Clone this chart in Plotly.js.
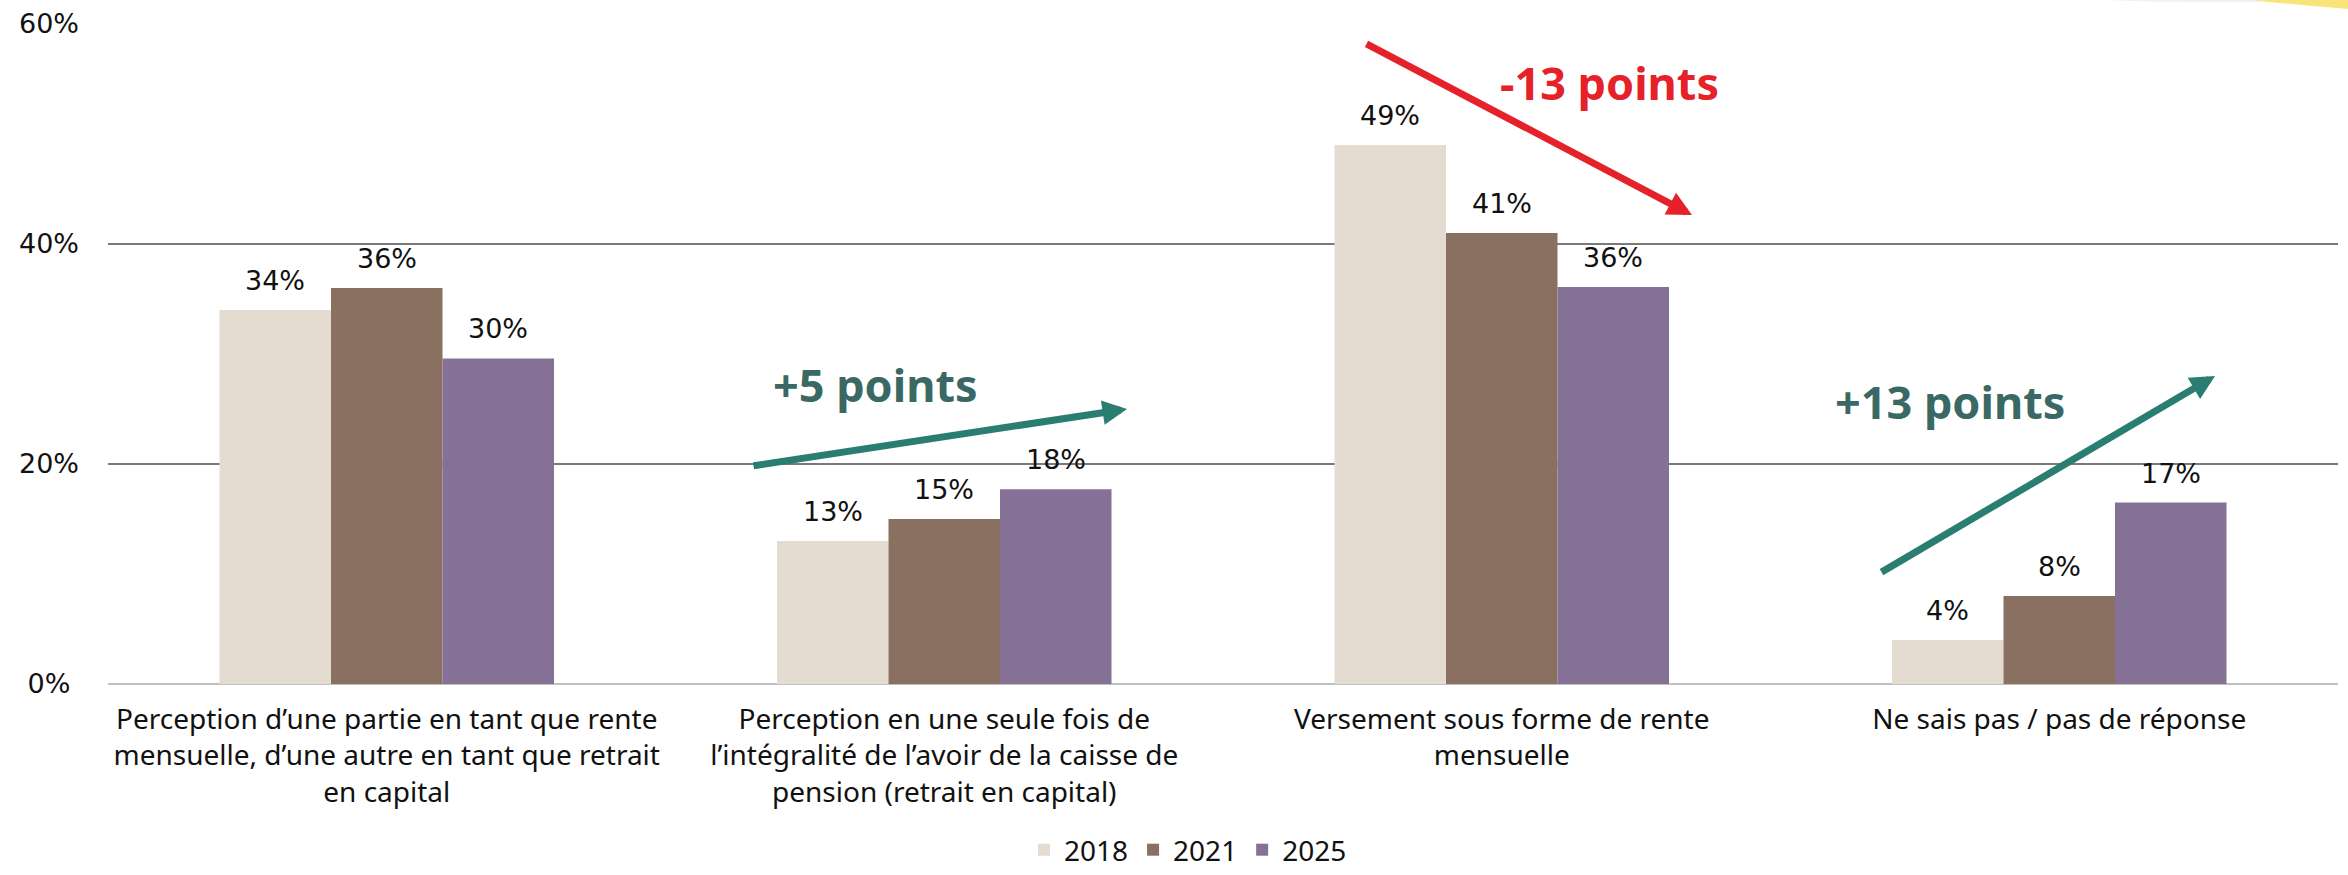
<!DOCTYPE html>
<html>
<head>
<meta charset="utf-8">
<script src="https://cdn.plot.ly/plotly-3.0.1.min.js"></script>
<style>
  html, body { margin: 0; padding: 0; background: #ffffff; }
  #chart { width: 2348px; height: 875px; }
</style>
</head>
<body>
<div id="chart"></div>
<script>
// ---- Data ----
const categories = [
  "Perception d\u2019une partie en tant que rente<br>mensuelle, d\u2019une autre en tant que retrait<br>en capital",
  "Perception en une seule fois de<br>l\u2019int\u00e9gralit\u00e9 de l\u2019avoir de la caisse de<br>pension (retrait en capital)",
  "Versement sous forme de rente<br>mensuelle",
  "Ne sais pas / pas de r\u00e9ponse"
];
const years = ["2018", "2021", "2025"];
const values2018 = [34, 13, 49, 4];
const values2021 = [36, 15, 41, 8];
const values2025 = [29.6, 17.7, 36.1, 16.5];
const yTickVals = [0, 20, 40, 60];
const yTickText = ["0%\u00a0", "20%", "40%", "60%"];
const trendLabels = ["+5 points", "-13 points", "+13 points"];
const barColors = ["#e4dbd1", "#8a7061", "#867196"];

// ---- Layout constants ----
const W = 2348, H = 875;
const M = { l: 108, r: 10, t: 24, b: 191, autoexpand: false };
const bargap = 0.4;
const plotW = W - M.l - M.r;
const plotH = H - M.t - M.b;
const catW = plotW / categories.length;
const barW = catW * (1 - bargap) / years.length;

const series = [values2018, values2021, values2025];

const traces = series.map((vals, k) => ({
  type: "bar",
  name: years[k],
  x: categories,
  y: vals,
  marker: { color: barColors[k], line: { width: 0 } },
  hoverinfo: "skip"
}));

// value labels placed from the data through the axes
const labelAnns = [];
series.forEach((vals, k) => {
  vals.forEach((v, i) => {
    labelAnns.push({
      xref: "x", yref: "y",
      x: categories[i], y: v,
      xshift: (k - 1) * barW,
      yshift: 12,
      yanchor: "bottom", xanchor: "center",
      text: Math.round(v) + "%",
      showarrow: false,
      font: { family: "DejaVu Sans", size: 27, color: "#111111" }
    });
  });
});

// helpers pixel -> paper / data
const px = p => (p - M.l) / plotW;
const py = p => (M.t + plotH - p) / plotH;
const dy = p => (M.t + plotH - p) / plotH * 60;

const green = "#2a7e71";
const greenText = "#3a6864";
const red = "#e52129";

const trendAnns = [
  // arrows
  { xref: "paper", yref: "y", x: px(1127), y: dy(409), ax: 752 - 1127, ay: 466 - 409,
    showarrow: true, arrowhead: 2, arrowwidth: 7, arrowsize: 0.7, arrowcolor: green, text: "" },
  { xref: "paper", yref: "y", x: px(1692), y: dy(215), ax: 1365 - 1692, ay: 43 - 215,
    showarrow: true, arrowhead: 2, arrowwidth: 7, arrowsize: 0.7, arrowcolor: red, text: "" },
  { xref: "paper", yref: "y", x: px(2215), y: dy(376), ax: 1880 - 2215, ay: 573 - 376,
    showarrow: true, arrowhead: 2, arrowwidth: 7, arrowsize: 0.7, arrowcolor: green, text: "" },
  // texts
  { xref: "paper", yref: "y", x: px(875), y: dy(384), text: "<b>" + trendLabels[0] + "</b>",
    showarrow: false, xanchor: "center", yanchor: "middle",
    font: { family: "Noto Sans", size: 45, color: greenText } },
  { xref: "paper", yref: "y", x: px(1609), y: dy(82), text: "<b>" + trendLabels[1] + "</b>",
    showarrow: false, xanchor: "center", yanchor: "middle",
    font: { family: "Noto Sans", size: 45, color: red } },
  { xref: "paper", yref: "y", x: px(1950), y: dy(401), text: "<b>" + trendLabels[2] + "</b>",
    showarrow: false, xanchor: "center", yanchor: "middle",
    font: { family: "Noto Sans", size: 45, color: greenText } }
];

const layout = {
  width: W, height: H,
  margin: M,
  paper_bgcolor: "#ffffff",
  plot_bgcolor: "#ffffff",
  barmode: "group",
  bargap: bargap,
  bargroupgap: 0,
  showlegend: true,
  legend: {
    orientation: "h",
    x: px(1188), xanchor: "center",
    yref: "container",
    y: 0, yanchor: "bottom",
    font: { family: "Noto Sans", size: 28, color: "#111111" },
    itemwidth: 30,
    traceorder: "normal"
  },
  xaxis: {
    type: "category",
    showgrid: false,
    showline: false,
    zeroline: false,
    ticks: "",
    tickangle: 0,
    automargin: false,
    ticklabelstandoff: 16,
    tickfont: { family: "Noto Sans", size: 28, color: "#111111" }
  },
  yaxis: {
    range: [0, 60],
    tickmode: "array",
    tickvals: yTickVals,
    ticktext: yTickText,
    showgrid: true,
    gridcolor: "#7a7a7a",
    gridwidth: 1.5,
    zeroline: true,
    zerolinecolor: "#c0c0c0",
    zerolinewidth: 2.5,
    showline: false,
    ticks: "",
    automargin: false,
    ticklabelstandoff: 28,
    tickfont: { family: "DejaVu Sans", size: 27, color: "#111111" },
    fixedrange: true
  },
  shapes: [
    {
      type: "path", xref: "paper", yref: "paper", layer: "above",
      path: `M ${px(2250)},${py(0)} Q ${px(2300)},${py(5)} ${px(2348)},${py(9)} L ${px(2348)},${py(0)} Z`,
      fillcolor: "#f7e26c", line: { width: 0 }, opacity: 0.9
    },
    {
      type: "path", xref: "paper", yref: "paper", layer: "above",
      path: `M ${px(2100)},${py(0)} Q ${px(2180)},${py(3)} ${px(2260)},${py(2)} L ${px(2260)},${py(0)} Z`,
      fillcolor: "#e8e8ee", line: { width: 0 }, opacity: 0.6
    }
  ],
  annotations: labelAnns.concat(trendAnns)
};

Plotly.newPlot("chart", traces, layout, { displayModeBar: false, staticPlot: true });
</script>
</body>
</html>
